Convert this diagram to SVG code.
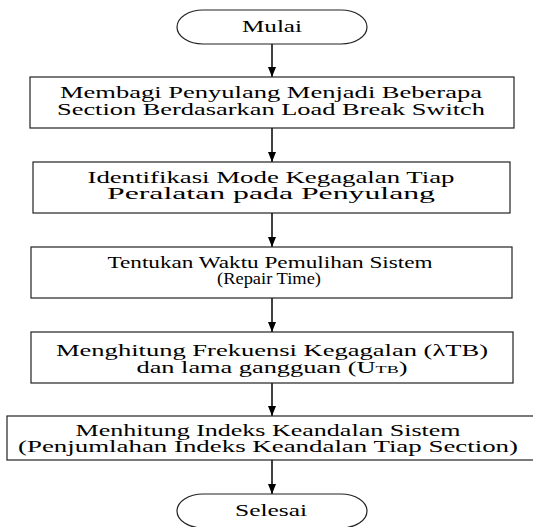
<svg xmlns="http://www.w3.org/2000/svg" width="533" height="527" viewBox="0 0 533 527">
<style>
.box{fill:#fff;stroke:#222;stroke-width:1.2}
.t{font-family:'Liberation Serif','Times New Roman',serif;font-size:16px;fill:#000;text-anchor:middle}
.c{stroke:#000;stroke-width:1.5;fill:none}
</style>
<defs>
<marker id="ah" markerUnits="userSpaceOnUse" markerWidth="10" markerHeight="8" refX="10" refY="4" orient="auto">
<path d="M0,0 L10,4 L0,8 z" fill="#000"/>
</marker>
</defs>
<rect width="533" height="527" fill="#fff"/>
<g id="connectors">
<line class="c" x1="272" y1="44" x2="272" y2="77" marker-end="url(#ah)"/>
<line class="c" x1="272" y1="128" x2="272" y2="162" marker-end="url(#ah)"/>
<line class="c" x1="272" y1="213" x2="272" y2="247" marker-end="url(#ah)"/>
<line class="c" x1="272" y1="298" x2="272" y2="332" marker-end="url(#ah)"/>
<line class="c" x1="272" y1="383" x2="272" y2="416" marker-end="url(#ah)"/>
<line class="c" x1="272" y1="460" x2="272" y2="494" marker-end="url(#ah)"/>
</g>
<g id="mulai">
<rect class="box" x="177" y="10" width="190" height="34" rx="26" ry="17"/>
<text class="t" font-family="Liberation Serif, serif" x="272" y="32" textLength="60" lengthAdjust="spacingAndGlyphs">Mulai</text>
</g>
<g id="step1">
<rect class="box" x="30" y="77" width="484" height="51"/>
<text class="t" font-family="Liberation Serif, serif" x="271" y="98" textLength="422" lengthAdjust="spacingAndGlyphs">Membagi Penyulang Menjadi Beberapa</text>
<text class="t" font-family="Liberation Serif, serif" x="271" y="115" textLength="428" lengthAdjust="spacingAndGlyphs">Section Berdasarkan Load Break Switch</text>
</g>
<g id="step2">
<rect class="box" x="33" y="162" width="477" height="51"/>
<text class="t" font-family="Liberation Serif, serif" x="271" y="183" textLength="367" lengthAdjust="spacingAndGlyphs">Identifikasi Mode Kegagalan Tiap</text>
<text class="t" font-family="Liberation Serif, serif" x="271" y="199" textLength="328" lengthAdjust="spacingAndGlyphs">Peralatan pada Penyulang</text>
</g>
<g id="step3">
<rect class="box" x="31" y="247" width="481" height="51"/>
<text class="t" font-family="Liberation Serif, serif" x="270" y="268" textLength="325" lengthAdjust="spacingAndGlyphs">Tentukan Waktu Pemulihan Sistem</text>
<text class="t" font-family="Liberation Serif, serif" x="269" y="284" textLength="104" lengthAdjust="spacingAndGlyphs">(Repair Time)</text>
</g>
<g id="step4">
<rect class="box" x="31" y="332" width="482" height="51"/>
<text class="t" font-family="Liberation Serif, serif" x="272" y="356" textLength="432" lengthAdjust="spacingAndGlyphs">Menghitung Frekuensi Kegagalan (λTB)</text>
<text class="t" font-family="Liberation Serif, serif" x="272" y="373" textLength="271" lengthAdjust="spacingAndGlyphs">dan lama gangguan (U<tspan font-size="11">TB</tspan>)</text>
</g>
<g id="step5">
<rect class="box" x="7" y="416" width="530" height="44"/>
<text class="t" font-family="Liberation Serif, serif" x="268" y="436" textLength="385" lengthAdjust="spacingAndGlyphs">Menhitung Indeks Keandalan Sistem</text>
<text class="t" font-family="Liberation Serif, serif" x="268" y="452" textLength="500" lengthAdjust="spacingAndGlyphs">(Penjumlahan Indeks Keandalan Tiap Section)</text>
</g>
<g id="selesai">
<rect class="box" x="177" y="494" width="190" height="34" rx="26" ry="17"/>
<text class="t" font-family="Liberation Serif, serif" x="271" y="516" textLength="72" lengthAdjust="spacingAndGlyphs">Selesai</text>
</g>
</svg>
